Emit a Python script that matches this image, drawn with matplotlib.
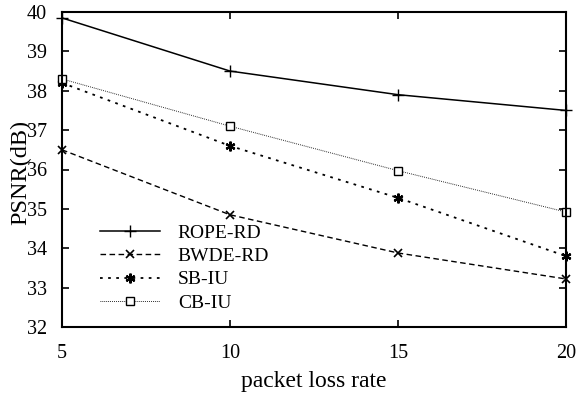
import matplotlib
matplotlib.use("Agg")
import matplotlib.pyplot as plt

plt.rcParams['font.family'] = ['Liberation Serif', 'DejaVu Serif']

loss_rate = [5, 10, 15, 20]
rope_rd = [39.85, 38.5, 37.9, 37.5]
bwde_rd = [36.5, 34.85, 33.88, 33.22]
sb_iu = [38.2, 36.6, 35.28, 33.8]
cb_iu = [38.3, 37.1, 35.97, 34.92]

fig = plt.figure(figsize=(5.79, 3.97), dpi=100)
ax = fig.add_axes([62/579, 1 - 327/397, (566-62)/579, (327-12)/397])

ax.plot(loss_rate, rope_rd, color='black', linestyle='-', linewidth=1.1,
        marker='+', markersize=8, markeredgewidth=1.0, label='ROPE-RD', clip_on=False)
ax.plot(loss_rate, bwde_rd, color='black', linestyle=(0, (4, 2.5)), linewidth=1.0,
        marker='x', markersize=6, markeredgewidth=1.2, label='BWDE-RD', clip_on=False)
ax.plot(loss_rate, sb_iu, color='black', linestyle=(0, (1.5, 3)), linewidth=1.3,
        marker=(6, 2, 0), markersize=7, markeredgewidth=1.6, label='SB-IU', clip_on=False)
ax.plot(loss_rate, cb_iu, color='black', linestyle=(0, (0.8, 1.2)), linewidth=0.7,
        marker='s', markersize=6, markerfacecolor='white', markeredgewidth=1.0,
        label='CB-IU', clip_on=False)

ax.set_xlim(5, 20)
ax.set_ylim(32, 40)
ax.set_xticks(loss_rate)
ax.set_yticks(range(32, 41))
ax.tick_params(direction='in', top=True, right=True, length=5, width=1.2,
               labelsize=14.5)
ax.tick_params(axis='y', pad=11)
ax.tick_params(axis='x', pad=12)
for s in ax.spines.values():
    s.set_linewidth(1.5)

ax.set_xlabel('packet loss rate', fontsize=17)
ax.xaxis.set_label_coords(0.5, (327-371)/315)
ax.set_ylabel('PSNR(dB)', fontsize=17.5)
ax.yaxis.set_label_coords((31-62)/504, 0.49)

leg = ax.legend(loc='upper left', bbox_to_anchor=((100-62)/504, (327-224)/315),
                frameon=False, fontsize=14, handlelength=3.1, labelspacing=0.3,
                handletextpad=0.9, borderpad=0, borderaxespad=0)

fig.savefig('out.png', dpi=100)
